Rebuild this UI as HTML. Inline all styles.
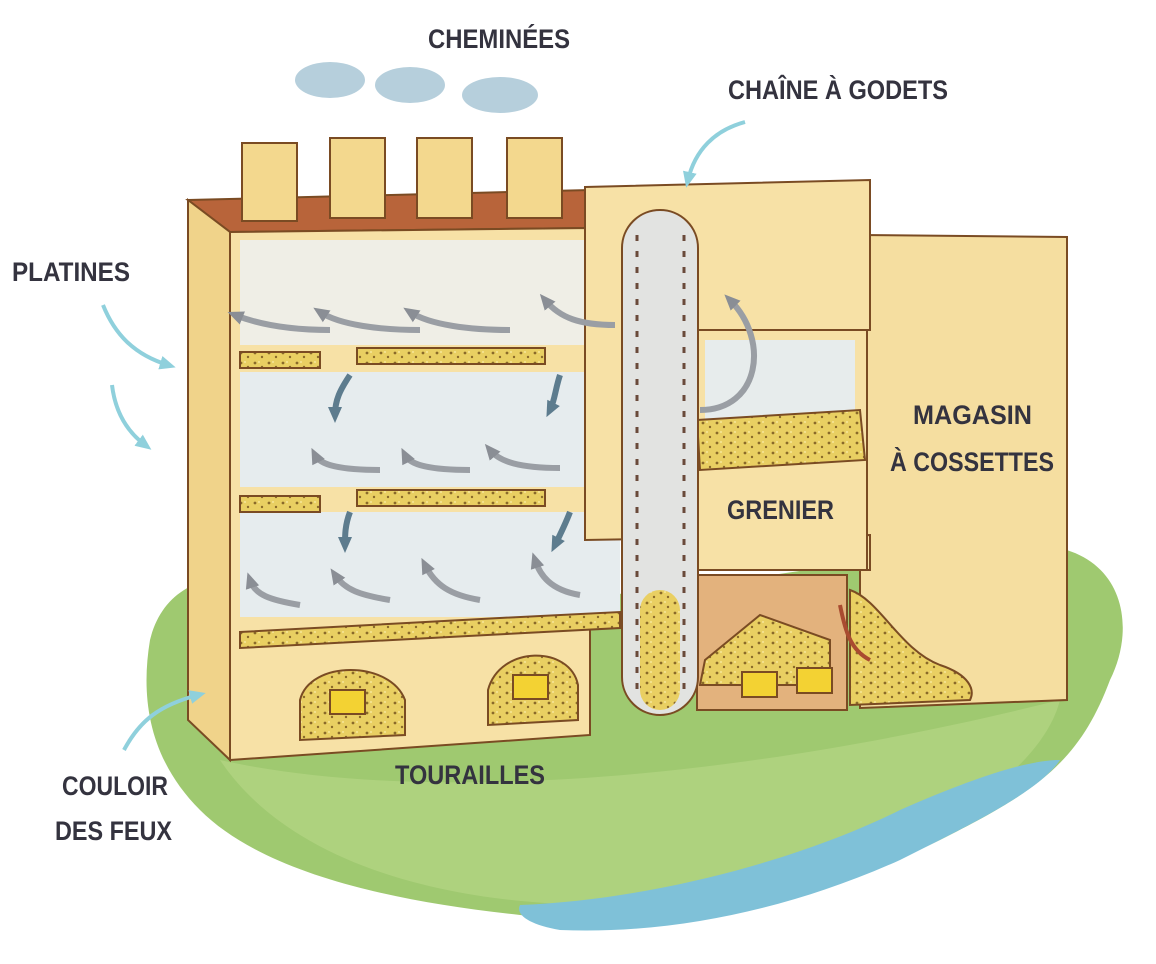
<!DOCTYPE html>
<html><head><meta charset="utf-8"><style>
body{margin:0;background:#fff;}
svg{display:block}
text{font-family:"Liberation Sans Narrow","Liberation Sans",sans-serif;font-weight:bold;fill:#34333f;font-size:27px}
</style></head><body>
<svg width="1156" height="964" viewBox="0 0 1156 964" xmlns="http://www.w3.org/2000/svg">
<defs>
<marker id="ah" markerUnits="userSpaceOnUse" markerWidth="16" markerHeight="16" refX="8" refY="8" orient="auto"><path d="M0,1 L16,8 L0,15z" fill="#8a8e95"/></marker>
<marker id="ab" markerUnits="userSpaceOnUse" markerWidth="16" markerHeight="16" refX="8" refY="8" orient="auto"><path d="M0,1 L16,8 L0,15z" fill="#5d7c8e"/></marker>
<marker id="ac" markerUnits="userSpaceOnUse" markerWidth="16" markerHeight="16" refX="8" refY="8" orient="auto"><path d="M0,1 L16,8 L0,15z" fill="#8fd0dc"/></marker>
<pattern id="spk" width="14" height="10" patternUnits="userSpaceOnUse"><rect width="14" height="10" fill="#e9cf62"/><circle cx="3" cy="3" r="1.4" fill="#8a6a2a"/><circle cx="10" cy="7" r="1.2" fill="#8a6a2a"/><circle cx="7" cy="2" r="1" fill="#f6e79a"/></pattern>
</defs>
<!-- grass -->
<path d="M150,640 C170,560 260,560 420,590 C600,620 800,560 1020,545 C1120,540 1140,620 1110,680 C1080,760 1040,790 940,840 C820,900 640,930 520,915 C380,900 260,870 200,810 C150,760 140,700 150,640Z" fill="#9fc970"/>
<path d="M220,760 C400,800 700,790 1060,700 C1040,780 900,870 700,900 C500,920 300,880 220,760Z" fill="#b5d585" opacity=".7"/>
<!-- river -->
<path d="M520,905 C650,900 800,860 900,810 C980,775 1030,760 1060,760 C1040,790 980,820 900,860 C800,905 680,935 560,930 C530,925 515,915 520,905Z" fill="#7fc1d8"/>
<!-- smoke -->
<g fill="#b6cfdc"><ellipse cx="330" cy="80" rx="35" ry="18"/><ellipse cx="410" cy="85" rx="35" ry="18"/><ellipse cx="500" cy="95" rx="38" ry="18"/></g>
<!-- magasin right -->
<path d="M860,235 L1067,237 L1067,700 L860,708Z" fill="#f5dea0" stroke="#7a4b23" stroke-width="2"/>
<path d="M850,590 C880,600 900,650 940,665 C970,675 975,690 970,700 L850,705Z" fill="url(#spk)" stroke="#7a4b23" stroke-width="2"/>
<!-- roof -->
<path d="M188,200 L590,190 L590,228 L230,232Z" fill="#b8643a" stroke="#7a4b23" stroke-width="2"/>
<!-- chimneys -->
<g fill="#f3d88e" stroke="#7a4b23" stroke-width="2">
<rect x="242" y="143" width="55" height="78"/><rect x="330" y="138" width="55" height="80"/><rect x="417" y="138" width="55" height="80"/><rect x="507" y="138" width="55" height="80"/></g>
<!-- main front -->
<path d="M230,232 L590,228 L590,735 L230,760Z" fill="#f7e1a6" stroke="#7a4b23" stroke-width="2"/>
<!-- left side -->
<path d="M188,200 L230,232 L230,760 L188,720Z" fill="#f0d38a" stroke="#7a4b23" stroke-width="2"/>
<!-- interior rooms -->
<rect x="240" y="240" width="345" height="105" fill="#efeee6"/>
<rect x="240" y="372" width="380" height="115" fill="#e6ecee"/>
<rect x="240" y="512" width="380" height="105" fill="#e6ecee"/>
<!-- platines -->
<g fill="url(#spk)" stroke="#7a4b23" stroke-width="2">
<rect x="240" y="352" width="80" height="16"/><rect x="357" y="348" width="188" height="16"/>
<rect x="240" y="496" width="80" height="16"/><rect x="357" y="490" width="188" height="16"/>
<path d="M240,632 L500,618 L620,612 L620,628 L240,648Z"/>
</g>
<!-- touraille arches -->
<g stroke="#7a4b23" stroke-width="2">
<path d="M300,740 L300,700 C310,660 390,660 405,700 L405,735Z" fill="url(#spk)"/>
<path d="M488,725 L488,690 C500,645 570,645 578,685 L578,720Z" fill="url(#spk)"/>
<rect x="330" y="690" width="35" height="24" fill="#f3d233"/><rect x="513" y="675" width="35" height="24" fill="#f3d233"/>
</g>
<!-- tall middle block -->
<path d="M585,187 L870,180 L870,330 L697,330 L697,570 L870,570 L870,535 L585,540Z" fill="#f7e1a6" stroke="#7a4b23" stroke-width="2"/>
<rect x="697" y="330" width="170" height="240" fill="#f7e1a6" stroke="#7a4b23" stroke-width="2"/>
<rect x="705" y="340" width="150" height="85" fill="#e7ecec"/>
<path d="M697,420 L860,410 L865,460 L700,470Z" fill="url(#spk)" stroke="#7a4b23" stroke-width="2"/>
<!-- lower furnace area -->
<rect x="697" y="575" width="150" height="135" fill="#e3b27d" stroke="#7a4b23" stroke-width="2"/>
<path d="M705,660 L760,615 L830,640 L830,685 L700,685Z" fill="url(#spk)" stroke="#7a4b23" stroke-width="2"/>
<rect x="742" y="672" width="35" height="25" fill="#f3d233" stroke="#7a4b23" stroke-width="2"/>
<rect x="797" y="668" width="35" height="25" fill="#f3d233" stroke="#7a4b23" stroke-width="2"/>
<!-- elevator tube -->
<rect x="622" y="210" width="76" height="505" rx="38" fill="#e2e3e1" stroke="#7a4b23" stroke-width="2"/>
<rect x="640" y="590" width="40" height="120" rx="20" fill="url(#spk)"/>
<line x1="637" y1="235" x2="637" y2="690" stroke="#6a4a3a" stroke-width="3" stroke-dasharray="6 10"/>
<line x1="684" y1="235" x2="684" y2="690" stroke="#6a4a3a" stroke-width="3" stroke-dasharray="6 10"/>
<!-- air arrows -->
<g fill="none" stroke="#9a9ea4" stroke-width="6" marker-end="url(#ah)">
<path d="M330,330 C290,330 260,325 235,315"/><path d="M420,330 C380,330 340,325 320,312"/><path d="M510,330 C470,330 430,325 410,312"/><path d="M615,325 C580,325 560,318 545,300"/>
<path d="M380,470 C340,470 320,465 315,455"/><path d="M470,470 C430,470 410,465 405,455"/><path d="M560,468 C520,468 500,462 490,450"/>
<path d="M300,605 C270,600 255,595 250,580"/><path d="M390,600 C360,595 345,590 335,575"/><path d="M480,600 C450,595 435,585 425,565"/><path d="M580,595 C550,590 540,575 535,560"/>
<path d="M700,410 C760,410 770,340 730,300"/>
</g>
<g fill="none" stroke="#5d7c8e" stroke-width="6" marker-end="url(#ab)">
<path d="M350,375 C340,390 335,400 335,415"/><path d="M560,375 C555,390 555,400 550,410"/>
<path d="M350,512 C345,525 345,535 345,545"/><path d="M570,512 C565,525 560,535 555,545"/>
</g>
<path d="M870,660 C850,650 845,630 840,605" fill="none" stroke="#a94b30" stroke-width="4"/>
<!-- callout arrows -->
<g fill="none" stroke="#8fd0dc" stroke-width="4" marker-end="url(#ac)">
<path d="M745,122 C715,130 695,150 688,180"/>
<path d="M103,305 C115,335 135,355 168,365"/>
<path d="M112,385 C115,410 125,430 145,445"/>
<path d="M124,750 C140,720 160,705 198,695"/>
</g>
<!-- labels -->
<g lengthAdjust="spacingAndGlyphs">
<text x="428" y="48" textLength="142" lengthAdjust="spacingAndGlyphs">CHEMINÉES</text>
<text x="728" y="99" textLength="220" lengthAdjust="spacingAndGlyphs">CHAÎNE À GODETS</text>
<text x="12" y="281" textLength="118" lengthAdjust="spacingAndGlyphs">PLATINES</text>
<text x="913" y="424" textLength="119" lengthAdjust="spacingAndGlyphs">MAGASIN</text>
<text x="890" y="471" textLength="164" lengthAdjust="spacingAndGlyphs">À COSSETTES</text>
<text x="727" y="519" textLength="107" lengthAdjust="spacingAndGlyphs">GRENIER</text>
<text x="395" y="784" textLength="150" lengthAdjust="spacingAndGlyphs">TOURAILLES</text>
<text x="62" y="795" textLength="106" lengthAdjust="spacingAndGlyphs">COULOIR</text>
<text x="55" y="840" textLength="117" lengthAdjust="spacingAndGlyphs">DES FEUX</text>
</g>
</svg>
</body></html>
